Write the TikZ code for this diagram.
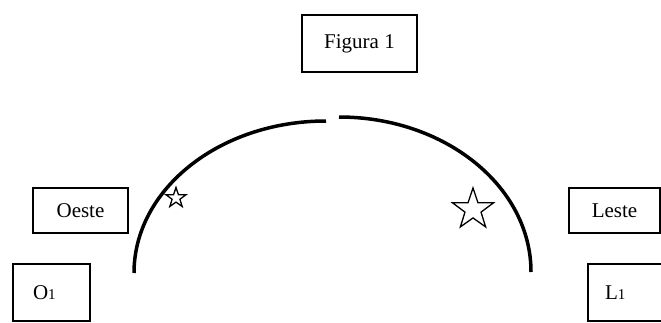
\documentclass[tikz,border=0pt]{standalone}
\usepackage{fontspec}
\setmainfont{Liberation Serif}
\usetikzlibrary{positioning,shapes.geometric}
\tikzset{
  boxstyle/.style={rectangle, draw=black, line width=1.5pt, inner sep=0pt,
    align=center, font=\fontsize{21}{25}\selectfont},
  cornerstyle/.style={boxstyle, align=left, minimum height=57pt},
  starstyle/.style={star, star points=5, star point ratio=2.55, draw=black,
    line width=1.3pt, inner sep=0pt},
  arcstyle/.style={line width=3.5pt, black}
}
\newcommand{\subidx}[1]{{\fontsize{15}{17}\selectfont #1}}

\begin{document}
\begin{tikzpicture}
  \useasboundingbox (0pt,0pt) rectangle (661pt,-322pt);
  \clip (0pt,0pt) rectangle (661pt,-322pt);
  \node[boxstyle, minimum width=115pt, minimum height=57pt] (fig) at (359.5pt,-43.5pt) {Figura 1};
  \node[boxstyle, minimum width=95pt, minimum height=45pt] (oeste) at (80.5pt,-210.5pt) {Oeste};
  \node[boxstyle, minimum width=91pt, minimum height=45pt] (leste) at (614.5pt,-210.5pt) {Leste};
  \node[cornerstyle, inner xsep=20pt, text width=37pt] (o1) at (51.5pt,-292.5pt) {O\subidx{1}};
  \node[cornerstyle, inner xsep=17pt, text width=46pt] (l1) at (628pt,-292.5pt) {L\subidx{1}};
  % the two halves of the sky arc
  \coordinate (wfoot) at (134pt,-273pt);
  \coordinate (efoot) at (531pt,-272pt);
  \draw[arcstyle] (wfoot) arc[start angle=180, end angle=90, x radius=192pt, y radius=152pt] coordinate (wtop);
  \draw[arcstyle] (efoot) arc[start angle=0, end angle=90, x radius=192pt, y radius=155pt] coordinate (etop);
  \node[starstyle, minimum size=21pt] (small) at (176pt,-198pt) {};
  \node[starstyle, minimum size=43pt] (big) at (473pt,-209.5pt) {};
\end{tikzpicture}
\end{document}
